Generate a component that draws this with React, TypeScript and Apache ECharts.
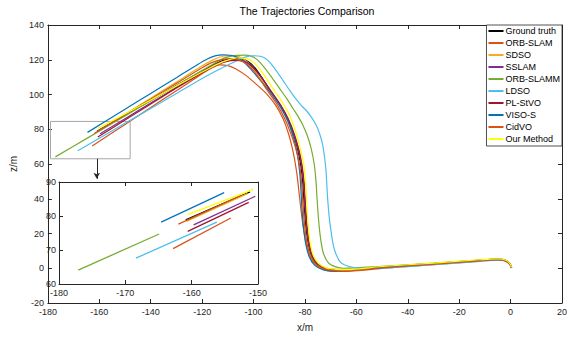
import React, { useEffect, useRef } from 'react';
import * as echarts from 'echarts';

const seriesNames = ['Ground truth', 'ORB-SLAM', 'SDSO', 'SSLAM', 'ORB-SLAMM', 'LDSO', 'PL-StVO', 'VISO-S', 'CidVO', 'Our Method'];
const seriesColors = ['#000000', '#D95319', '#EDB120', '#7E2F8E', '#77AC30', '#4DBEEE', '#A2142F', '#0072BD', '#D95319', '#FFFF00'];

const groundTruth = [[-160.9,78.9],[-150,88.1],[-140,96.6],[-130,105.1],[-120,113.6],[-115,117.6],[-111,119.9],[-107,120.8],[-104,120.3],[-101,117.8],[-97.5,111.5],[-93.5,102],[-90,94.5],[-87,86.5],[-84.8,78],[-83,69],[-81.7,60],[-80.9,50],[-80.4,38],[-79.8,26],[-78.9,15],[-77.5,7],[-75.5,2.5],[-72.5,0],[-68.5,-0.9],[-64,-1.1],[-50,0.5],[-30,2.6],[-12,4.5],[-5.5,5.1],[-3,4.9],[-1.2,3.8],[-0.1,2],[0.4,0.3]];
const orbSlam = [[-162.8,70.4],[-150,82.8],[-140,92.5],[-130,102.2],[-122,110],[-118,113.8],[-115,116.2],[-113,117],[-110,116.6],[-107,114.8],[-103,111],[-99,106],[-95,100.5],[-91.5,94],[-88.5,86],[-86.3,77],[-84.6,67],[-83.3,56],[-82.4,45],[-81.5,33],[-80.4,21],[-79,11],[-77,4],[-74,0],[-70,-1.8],[-65,-1.8],[-50,-0.1],[-30,2.1],[-12,4.1],[-5.5,4.8],[-3,4.6],[-1.2,3.5],[-0.1,1.8],[0.4,0.1]];
const sdso = [[-160.8,78.4],[-150,88.6],[-140,97.9],[-130,107.2],[-120,116.5],[-116,119.8],[-113,121.6],[-110,122.3],[-107,122.2],[-104.5,121],[-102,118],[-99,112.5],[-95,104.5],[-91,96.5],[-88,89],[-85.5,80],[-83.5,70],[-82.2,60],[-81.4,50],[-80.8,38],[-80.2,26],[-79.2,15],[-77.8,7],[-75.8,2.3],[-72.8,-0.3],[-68.5,-1.2],[-64,-1.2],[-50,0.6],[-30,2.7],[-12,4.6],[-5.5,5.2],[-3,5],[-1.2,3.9],[-0.1,2.1],[0.4,0.3]];
const sslam = [[-159.7,77.4],[-150,86.1],[-140,95.1],[-130,104.1],[-120,113.1],[-115,117.3],[-111,119.5],[-107,120.1],[-104,119.5],[-101,117],[-97.5,111],[-93.3,102],[-89.8,94.5],[-86.8,86.5],[-84.5,78],[-82.7,69],[-81.4,60],[-80.6,50],[-80.1,38],[-79.5,26],[-78.6,15],[-77.2,7.2],[-75.2,2.8],[-72.2,0.2],[-68.3,-0.7],[-64,-0.9],[-50,0.8],[-30,2.8],[-12,4.7],[-5.5,5.3],[-3,5.1],[-1.2,4],[-0.1,2.2],[0.4,0.4]];
const orbSlamm = [[-177.1,64.1],[-165,74.6],[-150,87.7],[-140,96.4],[-130,105.1],[-120,113.8],[-115,118.1],[-111,121.2],[-107,122.5],[-103,122.7],[-100,121.5],[-97.4,118.3],[-93.5,111],[-89.7,103.1],[-87,97.5],[-84.6,91.8],[-82.5,87],[-80.8,82.3],[-79,76],[-77.6,69],[-76.4,60],[-75.7,50],[-75.3,40],[-74.7,28],[-74,18],[-72.8,8.5],[-70.8,3],[-68,0.8],[-65,0],[-50,1.1],[-30,2.9],[-12,4.7],[-5.5,5.2],[-3,5],[-1.2,3.9],[-0.1,2.1],[0.4,0.3]];
const ldso = [[-168.4,67.6],[-160,74.8],[-150,83.4],[-140,92],[-130,100.6],[-120,109.2],[-112,115.5],[-107.7,118.6],[-105,120.5],[-102.6,121.8],[-100,122.3],[-97.4,122],[-95.5,120.8],[-93.6,118.3],[-91,113.3],[-88.5,108],[-86,102.5],[-83.3,97],[-81.3,93.5],[-79.5,90.8],[-77.5,87],[-75.6,82.3],[-74.2,77],[-73.1,71],[-72.3,63],[-71.8,55.9],[-71.2,40.7],[-70.6,30],[-69.9,21.8],[-69,13.5],[-68,8.5],[-66.5,4],[-64.7,2],[-61.5,0.5],[-57,0],[-50,0.1],[-30,2],[-12,4],[-5.5,4.7],[-3,4.5],[-1.2,3.4],[-0.1,1.7],[0.4,0.1]];
const plStvo = [[-160.6,75.5],[-150,85.3],[-140,94.5],[-130,103.7],[-120,112.6],[-115,116.6],[-111,118.8],[-107,119.6],[-104,119],[-101,116.6],[-97.3,110.5],[-93,101.5],[-89.5,94],[-86.5,86],[-84.2,77.5],[-82.4,68.5],[-81.1,59],[-80.3,49],[-79.8,37],[-79.2,25],[-78.3,14.5],[-77,7],[-75,2.7],[-72,0],[-68,-0.9],[-64,-1],[-50,0.7],[-30,2.7],[-12,4.6],[-5.5,5.2],[-3,5],[-1.2,3.9],[-0.1,2.1],[0.4,0.3]];
const visoS = [[-164.6,78.2],[-150,91.5],[-140,100.6],[-130,109.7],[-122,117],[-118,120.4],[-115,122.2],[-112,122.8],[-109,122.6],[-106.5,121.5],[-104,119],[-101,114.5],[-97,107.5],[-93,100],[-89.5,92.5],[-86.6,84.5],[-84.5,75.5],[-83,66],[-82.1,56],[-81.6,46],[-81.2,35],[-80.6,24],[-79.7,14],[-78.3,6.5],[-76.3,1.8],[-73,-0.8],[-68.5,-1.5],[-64,-1.3],[-50,0.4],[-30,2.5],[-12,4.4],[-5.5,5],[-3,4.8],[-1.2,3.7],[-0.1,1.9],[0.4,0.2]];
const cidVo = [[-162,77.6],[-150,88.4],[-140,97.4],[-130,106.4],[-120,115.4],[-116,118.5],[-112,120.2],[-108.5,120.6],[-105,119.5],[-102,116.8],[-98.5,110.8],[-94.5,102],[-91,94.5],[-88,86.5],[-85.6,78],[-83.6,69],[-82.2,60],[-81.3,50],[-80.8,38],[-80.2,26],[-79.3,15],[-77.9,7],[-75.8,2.3],[-72.7,-0.3],[-68.5,-1.3],[-64,-1.4],[-50,0.3],[-30,2.4],[-12,4.3],[-5.5,4.9],[-3,4.7],[-1.2,3.6],[-0.1,1.9],[0.4,0.2]];
const ourMethod = [[-160.6,80.4],[-150,88.8],[-140,96.8],[-130,104.9],[-120,112.9],[-114,117.5],[-110,119.8],[-106.5,121],[-103,120.8],[-100,118.5],[-96.5,112.5],[-92.5,103.5],[-89,96],[-86,88],[-83.8,79.5],[-82,70],[-80.5,60],[-79.8,50],[-79.3,38],[-78.8,26],[-78,15],[-76.8,7.5],[-74.8,2.8],[-71.8,0.2],[-68,-0.6],[-64,-0.8],[-50,1],[-30,3],[-12,4.9],[-5.5,5.4],[-3,5.2],[-1.2,4.1],[-0.1,2.3],[0.4,0.5]];

// first stretch of each trajectory, as drawn in the zoomed inset
const insetGroundTruth = [[-160.9,78.9],[-151.2,87.1]];
const insetOrbSlam = [[-162.8,70.4],[-154.1,79.4]];
const insetSdso = [[-160.8,78.4],[-151.6,86.6]];
const insetSslam = [[-159.7,77.4],[-150.4,85.8]];
const insetOrbSlamm = [[-177.1,64.1],[-164.9,74.7]];
const insetLdso = [[-168.4,67.6],[-156.2,78.2]];
const insetPlStvo = [[-160.6,75.5],[-151.4,84]];
const insetVisoS = [[-164.6,78.2],[-155.1,86.9]];
const insetCidVo = [[-162,77.6],[-152.5,86.1]];
const insetOurMethod = [[-160.6,80.4],[-150.7,87.8]];

const seriesData = [groundTruth, orbSlam, sdso, sslam, orbSlamm, ldso, plStvo, visoS, cidVo, ourMethod];
const insetData = [insetGroundTruth, insetOrbSlam, insetSdso, insetSslam, insetOrbSlamm, insetLdso, insetPlStvo, insetVisoS, insetCidVo, insetOurMethod];

const mainX = { min: -180, max: 20, interval: 20 };
const mainY = { min: -20, max: 140, interval: 20 };
const insetX = { min: -180, max: -150, interval: 10 };
const insetY = { min: 60, max: 90, interval: 10 };
const zoomBox = [[-179, 84.5], [-148, 63]];
const arrowLine = [[-161, 63], [-161, 51.5]];

export default function App() {
  const ref = useRef<HTMLDivElement>(null);
  useEffect(() => {
    document.body.style.margin = '0';
    const chart = echarts.init(ref.current!, null, { renderer: 'svg' });
    const font = '"Liberation Sans", Arial, Helvetica, sans-serif';
    const axisColor = '#262626';
    const axis = (gridIndex: number, r: any, position: string, showLabel: boolean, extra: any = {}) => ({
      type: 'value',
      gridIndex,
      min: r.min,
      max: r.max,
      interval: r.interval,
      position,
      axisLine: { show: true, onZero: false, lineStyle: { color: axisColor, width: 1 } },
      axisTick: { show: true, inside: true, length: 4, lineStyle: { color: axisColor, width: 1 } },
      axisLabel: { show: showLabel, fontSize: 9, color: axisColor, margin: 4, fontFamily: font },
      splitLine: { show: false },
      ...extra,
    });
    const nameStyle = { fontSize: 10, color: axisColor, fontFamily: font };
    const series: any[] = [];
    seriesData.forEach((d, i) => {
      const s: any = {
        type: 'line',
        name: seriesNames[i],
        xAxisIndex: 0,
        yAxisIndex: 0,
        data: d,
        symbol: 'none',
        showSymbol: false,
        smooth: 0.3,
        lineStyle: { color: seriesColors[i], width: 1.2 },
        itemStyle: { color: seriesColors[i] },
        silent: true,
      };
      if (i === 0) {
        s.markArea = {
          silent: true,
          itemStyle: { color: 'rgba(0,0,0,0)', borderColor: '#a6a6a6', borderWidth: 1 },
          label: { show: false },
          data: [[{ coord: zoomBox[0] }, { coord: zoomBox[1] }]],
        };
        s.markLine = {
          silent: true,
          symbol: ['none', 'arrow'],
          symbolSize: [5, 6],
          lineStyle: { color: axisColor, width: 1, type: 'solid' },
          label: { show: false },
          data: [[{ coord: arrowLine[0] }, { coord: arrowLine[1] }]],
        };
      }
      series.push(s);
    });
    insetData.forEach((d, i) => {
      series.push({
        type: 'line',
        name: seriesNames[i],
        xAxisIndex: 2,
        yAxisIndex: 2,
        data: d,
        symbol: 'none',
        showSymbol: false,
        clip: true,
        lineStyle: { color: seriesColors[i], width: 1.3 },
        itemStyle: { color: seriesColors[i] },
        silent: true,
        z: 5,
      });
    });
    chart.setOption({
      animation: false,
      backgroundColor: '#ffffff',
      title: {
        text: 'The Trajectories Comparison',
        left: 302,
        textAlign: 'center',
        top: 0,
        textStyle: { fontSize: 10.5, fontWeight: 'normal', color: '#000', fontFamily: font },
      },
      legend: {
        data: seriesNames,
        orient: 'vertical',
        right: 8,
        top: 25,
        icon: 'rect',
        itemWidth: 15,
        itemHeight: 2,
        itemGap: 0,
        padding: [0, 2, 1, 2],
        backgroundColor: '#ffffff',
        borderColor: axisColor,
        borderWidth: 0.8,
        textStyle: { fontSize: 9, lineHeight: 12, color: '#000', fontFamily: font, padding: [0, 0, 0, -3] },
        selectedMode: false,
        z: 10,
      },
      grid: [
        { left: 42, top: 25, width: 520, height: 282 },
        { left: 59, top: 182, width: 199, height: 102, show: true, backgroundColor: '#ffffff', borderWidth: 0, z: 4 },
      ],
      xAxis: [
        axis(0, mainX, 'bottom', true, { name: 'x/m', nameLocation: 'middle', nameGap: 19, nameTextStyle: nameStyle }),
        axis(0, mainX, 'top', false),
        axis(1, insetX, 'bottom', true, { z: 6 }),
        axis(1, insetX, 'top', false, { z: 6 }),
      ],
      yAxis: [
        axis(0, mainY, 'left', true, { name: 'z/m', nameLocation: 'middle', nameGap: 25, nameRotate: 90, nameTextStyle: nameStyle }),
        axis(0, mainY, 'right', false),
        axis(1, insetY, 'left', true, { z: 6, axisLabel: { show: true, fontSize: 9, color: axisColor, margin: 3, fontFamily: font } }),
        axis(1, insetY, 'right', false, { z: 6 }),
      ],
      series,
    });
    return () => chart.dispose();
  }, []);
  return <div ref={ref} style={{ position: 'fixed', left: 0, top: 0, width: 570, height: 337 }} />;
}
